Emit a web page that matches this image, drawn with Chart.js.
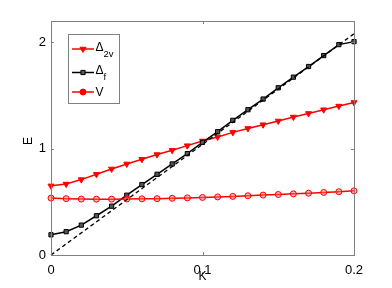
<!DOCTYPE html>
<html>
<head>
<meta charset="utf-8">
<script src="https://cdn.jsdelivr.net/npm/chart.js@4/dist/chart.umd.min.js"></script>
<style>
  html, body { margin: 0; padding: 0; background: #fff; }
  #wrap { width: 392px; height: 288px; }
</style>
</head>
<body>
<div id="wrap"><canvas id="c" width="392" height="288"></canvas></div>
<script>
// values
const kValues = [0, 0.01, 0.02, 0.03, 0.04, 0.05, 0.06, 0.07, 0.08, 0.09, 0.1,
                 0.11, 0.12, 0.13, 0.14, 0.15, 0.16, 0.17, 0.18, 0.19, 0.2];
const delta2v = [0.65, 0.667, 0.709, 0.759, 0.809, 0.856, 0.9, 0.944, 0.984, 1.028, 1.072,
                 1.11, 1.153, 1.19, 1.225, 1.26, 1.297, 1.331, 1.366, 1.4, 1.434];
const deltaF  = [0.19, 0.219, 0.281, 0.369, 0.459, 0.562, 0.662, 0.759, 0.856, 0.953, 1.059,
                 1.159, 1.266, 1.366, 1.466, 1.572, 1.672, 1.772, 1.875, 1.978, 2.006];
const vValues = [0.535, 0.53, 0.526, 0.525, 0.525, 0.527, 0.528, 0.53, 0.533, 0.537, 0.541,
                 0.546, 0.551, 0.557, 0.563, 0.569, 0.575, 0.581, 0.588, 0.595, 0.603];
const guideK  = [0, 0.2];
const guideE  = [0, 2.08];
const xTicks  = [0, 0.1, 0.2];
const yTicks  = [0, 1, 2];

const FONT = '"Liberation Sans", Helvetica, Arial, sans-serif';
const AXIS = '#808080';

function pts(xs, ys) {
  return xs.map((x, i) => ({x: x, y: ys[i]}));
}

// legend entries: main text, subscript
const legendItems = [
  {main: '\u0394', sub: '2v', color: '#ff0000', style: 'triangle', rot: 180, r: 3.5, fill: '#ff0000'},
  {main: '\u0394', sub: 'f',  color: '#000000', style: 'rect',     rot: 0,   r: 3,   fill: '#555555'},
  {main: 'V',      sub: '',   color: '#ff0000', style: 'circle',   rot: 0,   r: 3,   fill: '#ff0000'}
];

const decorations = {
  id: 'decorations',
  afterDraw(chart) {
    const ctx = chart.ctx;
    const a = chart.chartArea;
    const xs = chart.scales.x, ys = chart.scales.y;
    ctx.save();
    // axes box
    ctx.strokeStyle = AXIS;
    ctx.lineWidth = 1;
    ctx.strokeRect(Math.round(a.left) + 0.5, Math.round(a.top) + 0.5,
                   Math.round(a.right - a.left), Math.round(a.bottom - a.top));
    // inward ticks
    ctx.beginPath();
    xTicks.forEach(v => {
      const px = Math.round(xs.getPixelForValue(v)) + 0.5;
      ctx.moveTo(px, a.bottom); ctx.lineTo(px, a.bottom - 3);
      ctx.moveTo(px, a.top); ctx.lineTo(px, a.top + 3);
    });
    yTicks.forEach(v => {
      const py = Math.round(ys.getPixelForValue(v)) + 0.5;
      ctx.moveTo(a.left, py); ctx.lineTo(a.left + 3, py);
      ctx.moveTo(a.right, py); ctx.lineTo(a.right - 3, py);
    });
    ctx.stroke();

    // axis titles
    ctx.fillStyle = '#000';
    ctx.font = '12px ' + FONT;
    ctx.textAlign = 'center';
    ctx.textBaseline = 'middle';
    ctx.fillText('K', (a.left + a.right) / 2, 277);
    ctx.save();
    ctx.translate(29, 141);
    ctx.rotate(-Math.PI / 2);
    ctx.fillText('E', 0, 0);
    ctx.restore();

    // legend
    ctx.fillStyle = '#fff';
    ctx.fillRect(68.5, 34.5, 51, 69);
    ctx.strokeStyle = AXIS;
    ctx.strokeRect(68.5, 34.5, 51, 69);
    const rows = [49, 72.5, 92];
    legendItems.forEach((it, i) => {
      const y = rows[i];
      ctx.strokeStyle = it.color;
      ctx.lineWidth = 1.5;
      ctx.beginPath();
      ctx.moveTo(72, y); ctx.lineTo(94, y);
      ctx.stroke();
      ctx.fillStyle = it.fill;
      ctx.lineWidth = 1;
      Chart.helpers.drawPoint(ctx, {pointStyle: it.style, rotation: it.rot, radius: it.r, borderWidth: 1}, 83, y);
      ctx.fillStyle = '#000';
      ctx.textAlign = 'left';
      ctx.textBaseline = 'alphabetic';
      ctx.font = '12px ' + FONT;
      if (it.sub) {
        ctx.fillText(it.main, 95.5, y + 1.5);
        const w = ctx.measureText(it.main).width;
        ctx.font = '9.5px ' + FONT;
        ctx.fillText(it.sub, 95.5 + w, y + 7.5);
      } else {
        ctx.fillText(it.main, 95.5, y + 4);
      }
    });
    ctx.restore();
  }
};

new Chart(document.getElementById('c'), {
  type: 'scatter',
  data: {
    datasets: [
      {
        label: 'guide',
        data: pts(guideK, guideE),
        showLine: true,
        borderColor: '#000',
        borderWidth: 1.3,
        borderDash: [4, 3],
        pointRadius: 0,
        clip: false
      },
      {
        label: 'V',
        data: pts(kValues, vValues),
        showLine: true,
        borderColor: '#ff0000',
        borderWidth: 1.5,
        pointStyle: 'circle',
        pointRadius: 3,
        pointBackgroundColor: 'rgba(255,110,110,0.5)',
        pointBorderColor: '#ff0000',
        pointBorderWidth: 1,
        clip: false
      },
      {
        label: 'deltaF',
        data: pts(kValues, deltaF),
        showLine: true,
        borderColor: '#000',
        borderWidth: 1.5,
        pointStyle: 'rect',
        pointRadius: 3,
        pointBackgroundColor: '#555555',
        pointBorderColor: '#000',
        pointBorderWidth: 1,
        clip: false
      },
      {
        label: 'delta2v',
        data: pts(kValues, delta2v),
        showLine: true,
        borderColor: '#ff0000',
        borderWidth: 1.5,
        pointStyle: 'triangle',
        rotation: 180,
        pointRadius: 3.5,
        pointBackgroundColor: '#ff0000',
        pointBorderColor: '#ff0000',
        pointBorderWidth: 1,
        clip: false
      }
    ]
  },
  options: {
    responsive: false,
    animation: false,
    events: [],
    layout: {padding: {left: 0, top: 21, right: 38, bottom: 0}},
    plugins: {legend: {display: false}, tooltip: {enabled: false}},
    elements: {line: {tension: 0}},
    scales: {
      x: {
        type: 'linear',
        min: 0, max: 0.2,
        grid: {display: false, drawTicks: false},
        border: {display: false},
        afterFit(s) { s.height = 33; },
        afterBuildTicks(s) { s.ticks = xTicks.map(v => ({value: v})); },
        ticks: {
          padding: 8,
          color: '#000',
          font: {family: FONT, size: 13},
          maxRotation: 0,
          callback: v => String(v)
        }
      },
      y: {
        type: 'linear',
        min: 0, max: 2.2,
        grid: {display: false, drawTicks: false},
        border: {display: false},
        afterFit(s) { s.width = 51; },
        afterBuildTicks(s) { s.ticks = yTicks.map(v => ({value: v})); },
        ticks: {
          padding: 5,
          color: '#000',
          font: {family: FONT, size: 13},
          callback: v => String(v)
        }
      }
    }
  },
  plugins: [decorations]
});
</script>
</body>
</html>
